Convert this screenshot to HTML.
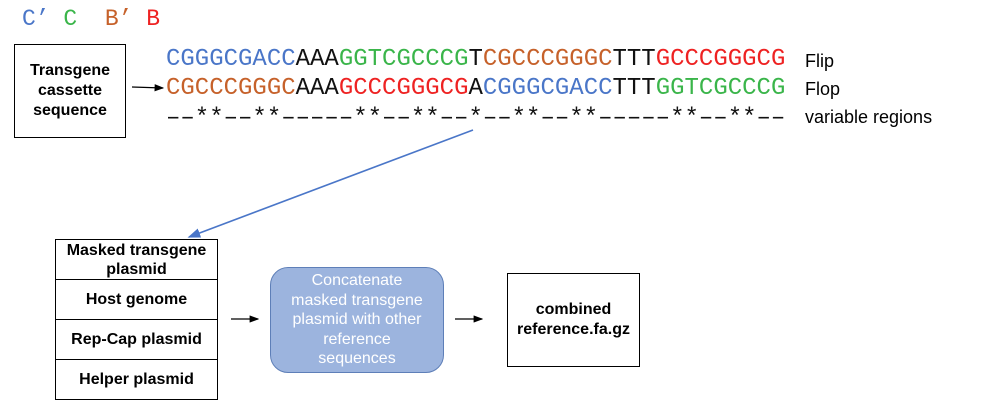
<!DOCTYPE html>
<html><head><meta charset="utf-8"><style>
body{margin:0;width:986px;height:409px;background:#fff;position:relative;overflow:hidden;font-family:"Liberation Sans",sans-serif}
.mono{font-family:"Liberation Mono",monospace;font-size:24px;position:absolute;left:166px;white-space:pre;line-height:24px}
.b{color:#4a76c8}.g{color:#3ab54a}.o{color:#c6612a}.r{color:#ee2222}.k{color:#111}
.lab{position:absolute;left:805px;font-size:18px;color:#000;line-height:20px}
.box{position:absolute;border:1.5px solid #000;box-sizing:border-box;display:flex;align-items:center;justify-content:center;text-align:center;font-weight:bold;font-size:16px;line-height:20px}
</style></head><body>
<div style="position:absolute;left:22px;top:6px;font-family:'Liberation Mono',monospace;font-size:23px;white-space:pre"><span class="b">C’</span> <span class="g">C</span>  <span class="o">B’</span> <span class="r">B</span></div>
<div class="box" style="left:14px;top:44px;width:112px;height:94px">Transgene<br>cassette<br>sequence</div>
<div class="mono" style="top:48px"><span class="b">CGGGCGACC</span><span class="k">AAA</span><span class="g">GGTCGCCCG</span><span class="k">T</span><span class="o">CGCCCGGGC</span><span class="k">TTT</span><span class="r">GCCCGGGCG</span></div>
<div class="mono" style="top:77px"><span class="o">CGCCCGGGC</span><span class="k">AAA</span><span class="r">GCCCGGGCG</span><span class="k">A</span><span class="b">CGGGCGACC</span><span class="k">TTT</span><span class="g">GGTCGCCCG</span></div>
<div class="mono k" style="top:107px">––**––**–––––**––**––*––**––**–––––**––**––</div>
<div class="lab" style="top:51px">Flip</div>
<div class="lab" style="top:79px">Flop</div>
<div class="lab" style="top:107px">variable regions</div>
<svg width="986" height="409" style="position:absolute;left:0;top:0">
<defs><marker id="a" markerWidth="8" markerHeight="6" refX="7" refY="3" orient="auto"><path d="M0,0L8,3L0,6z" fill="#000"/></marker>
<marker id="ab" markerWidth="8" markerHeight="6" refX="7" refY="3" orient="auto"><path d="M0,0L8,3L0,6z" fill="#4a76c8"/></marker></defs>
<line x1="132" y1="87" x2="163" y2="88" stroke="#000" stroke-width="1.2" marker-end="url(#a)"/>
<line x1="473" y1="130" x2="189" y2="237" stroke="#4a76c8" stroke-width="1.6" marker-end="url(#ab)"/>
<line x1="231" y1="319" x2="258" y2="319" stroke="#000" stroke-width="1.2" marker-end="url(#a)"/>
<line x1="455" y1="319" x2="482" y2="319" stroke="#000" stroke-width="1.2" marker-end="url(#a)"/>
</svg>
<div class="box" style="left:55px;top:239px;width:163px;height:41px;line-height:19px">Masked transgene<br>plasmid</div>
<div class="box" style="left:55px;top:279px;width:163px;height:41px">Host genome</div>
<div class="box" style="left:55px;top:319px;width:163px;height:41px">Rep-Cap plasmid</div>
<div class="box" style="left:55px;top:359px;width:163px;height:41px">Helper plasmid</div>
<div class="box" style="left:270px;top:267px;width:174px;height:106px;border-radius:18px;background:#9cb4de;border-color:#5e7fb8;color:#fff;font-weight:normal;font-size:16px;line-height:19.5px">Concatenate<br>masked transgene<br>plasmid with other<br>reference<br>sequences</div>
<div class="box" style="left:507px;top:273px;width:133px;height:94px">combined<br>reference.fa.gz</div>
</body></html>
